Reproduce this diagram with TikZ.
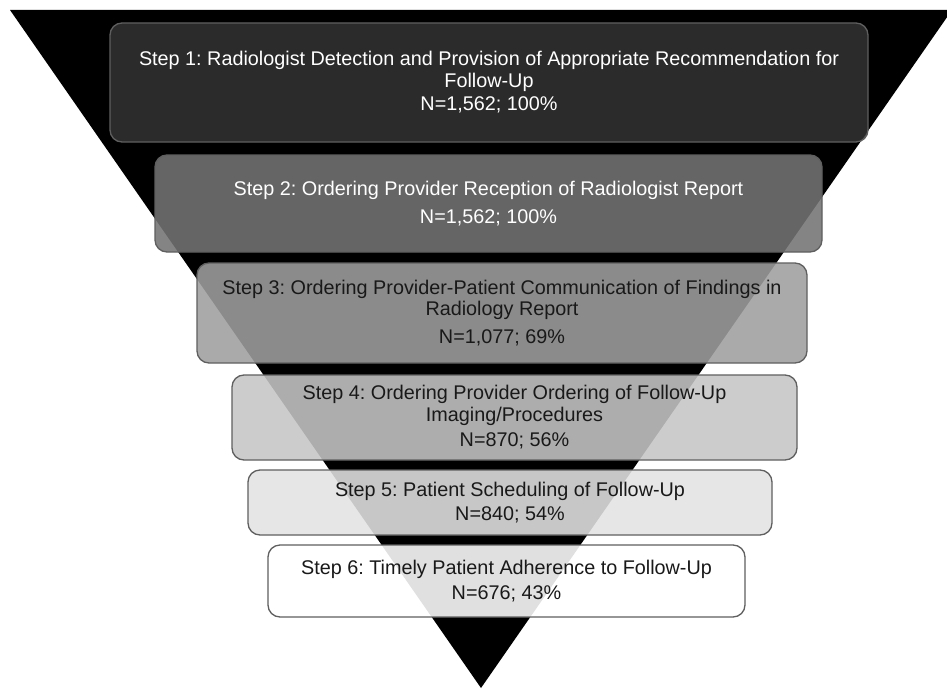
\documentclass[tikz,border=0pt]{standalone}
\usepackage{fontspec}
\setmainfont{Liberation Sans}
\definecolor{fOne}{RGB}{49,49,49}
\definecolor{fTwo}{RGB}{116,116,116}
\definecolor{fThree}{RGB}{159,159,159}
\definecolor{fFour}{RGB}{198,198,198}
\definecolor{fFive}{RGB}{227,227,227}
\definecolor{fSix}{RGB}{255,255,255}
\definecolor{edgegray}{RGB}{95,95,95}
\tikzset{
  stepbox/.style={draw=edgegray, line width=1.3pt, rounded corners=12pt,
    fill opacity=0.88, draw opacity=1, text opacity=1, inner sep=0pt,
    align=center, font=\fontsize{19.8}{21.5}\selectfont\frenchspacing},
  lighttext/.style={text=white},
  darktext/.style={text=black!90}
}
\begin{document}
\begin{tikzpicture}[x=1pt,y=-1pt]
\useasboundingbox (0,0) rectangle (947,690);
\fill[white] (0,0) rectangle (947,690);
\fill[black] (10,10) -- (952,10) -- (481,688) -- cycle;
\node[stepbox, lighttext, fill=fOne, minimum width=758pt, minimum height=119pt] (s1) at (489,82.5)
  {Step 1: Radiologist Detection and Provision of Appropriate Recommendation for\\Follow-Up\\[2pt]N=1,562; 100\%};
\node[stepbox, lighttext, fill=fTwo, minimum width=667pt, minimum height=97pt] (s2) at (488.5,203.5)
  {Step 2: Ordering Provider Reception of Radiologist Report\\[7pt]N=1,562; 100\%};
\node[stepbox, darktext, fill=fThree, minimum width=610pt, minimum height=100pt] (s3) at (502,313)
  {Step 3: Ordering Provider-Patient Communication of Findings in\\Radiology Report\\[6pt]N=1,077; 69\%};
\node[stepbox, darktext, fill=fFour, minimum width=565pt, minimum height=85pt] (s4) at (514.5,417.5)
  {Step 4: Ordering Provider Ordering of Follow-Up\\Imaging/Procedures\\[4pt]N=870; 56\%};
\node[stepbox, darktext, fill=fFive, minimum width=524pt, minimum height=65pt] (s5) at (510,502.5)
  {Step 5: Patient Scheduling of Follow-Up\\[2pt]N=840; 54\%};
\node[stepbox, darktext, fill=fSix, minimum width=477pt, minimum height=72pt] (s6) at (506.5,581)
  {Step 6: Timely Patient Adherence to Follow-Up\\[3pt]N=676; 43\%};
\end{tikzpicture}
\end{document}
